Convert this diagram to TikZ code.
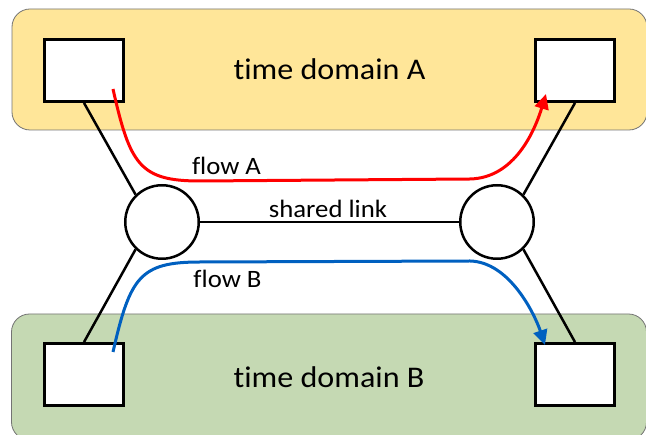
\documentclass[tikz,border=0pt]{standalone}
\usepackage{fontspec}
\setmainfont{Carlito}[Ligatures=NoCommon]
\usepackage{tikz}
\usetikzlibrary{arrows.meta}
\definecolor{domA}{HTML}{FFE699}
\definecolor{domB}{HTML}{C5D9B3}
\definecolor{flowred}{HTML}{FF0000}
\definecolor{flowblue}{HTML}{0060C0}
% text in the reference is set a little wide
\newcommand\widetxt[1]{\scalebox{1.07}[1]{#1}}

\begin{document}
\begin{tikzpicture}[x=1pt,y=-1pt,
  tdomain/.style={draw=black!55,line width=0.8pt,rounded corners=18pt,minimum width=635pt,font=\fontsize{30}{36}\selectfont},
  host/.style={draw,fill=white,line width=2.8pt,minimum width=79pt,minimum height=62pt,inner sep=0pt},
  router/.style={circle,draw,fill=white,line width=2.5pt,minimum size=73.5pt,inner sep=0pt},
  lbl/.style={inner sep=0pt,anchor=base,font=\fontsize{25}{30}\selectfont},
  link/.style={line width=2.5pt},
  flow/.style={line width=3pt,-{Triangle[length=15pt,width=14pt]}},
]
\useasboundingbox (0,0) rectangle (646,435);
\node[tdomain,fill=domA,minimum height=121pt](da) at(329.5,69.5){\widetxt{time domain A}};
\node[tdomain,fill=domB,minimum height=126pt](db) at(329,377){\widetxt{time domain B}};
\node[host](a1) at(84,70.5){}; \node[host](a2) at(575,70.5){};
\node[host](b1) at(84,374.5){}; \node[host](b2) at(575,374.5){};
\node[router](ra) at(162,222){}; \node[router](rb) at(497,222){};
\draw[link](a1.south)--(ra.134); \draw[link](b1.north)--(ra.226);
\draw[link](a2.south)--(rb.46); \draw[link](b2.north)--(rb.-46);
\draw[link](ra)--(rb);
\node[lbl](sl) at(328,218){\widetxt{shared link}};
\node[lbl](fla) at(226.5,175){\widetxt{flow A}};
\node[lbl](flb) at(227.5,288){\widetxt{flow B}};
\coordinate(fa0) at(113,89); \coordinate(fa1) at(546,94);
\coordinate(fb0) at(113,352); \coordinate(fb1) at(545,345);
\draw[flow,flowred](fa0) .. controls (130,165) and (140,181) .. (200,181)
  -- (470,179) .. controls (515,178) and (535,130) .. (fa1);
\draw[flow,flowblue](fb0) .. controls (130,277) and (140,262) .. (200,262)
  -- (470,261) .. controls (510,262) and (535,315) .. (fb1);
\end{tikzpicture}
\end{document}
